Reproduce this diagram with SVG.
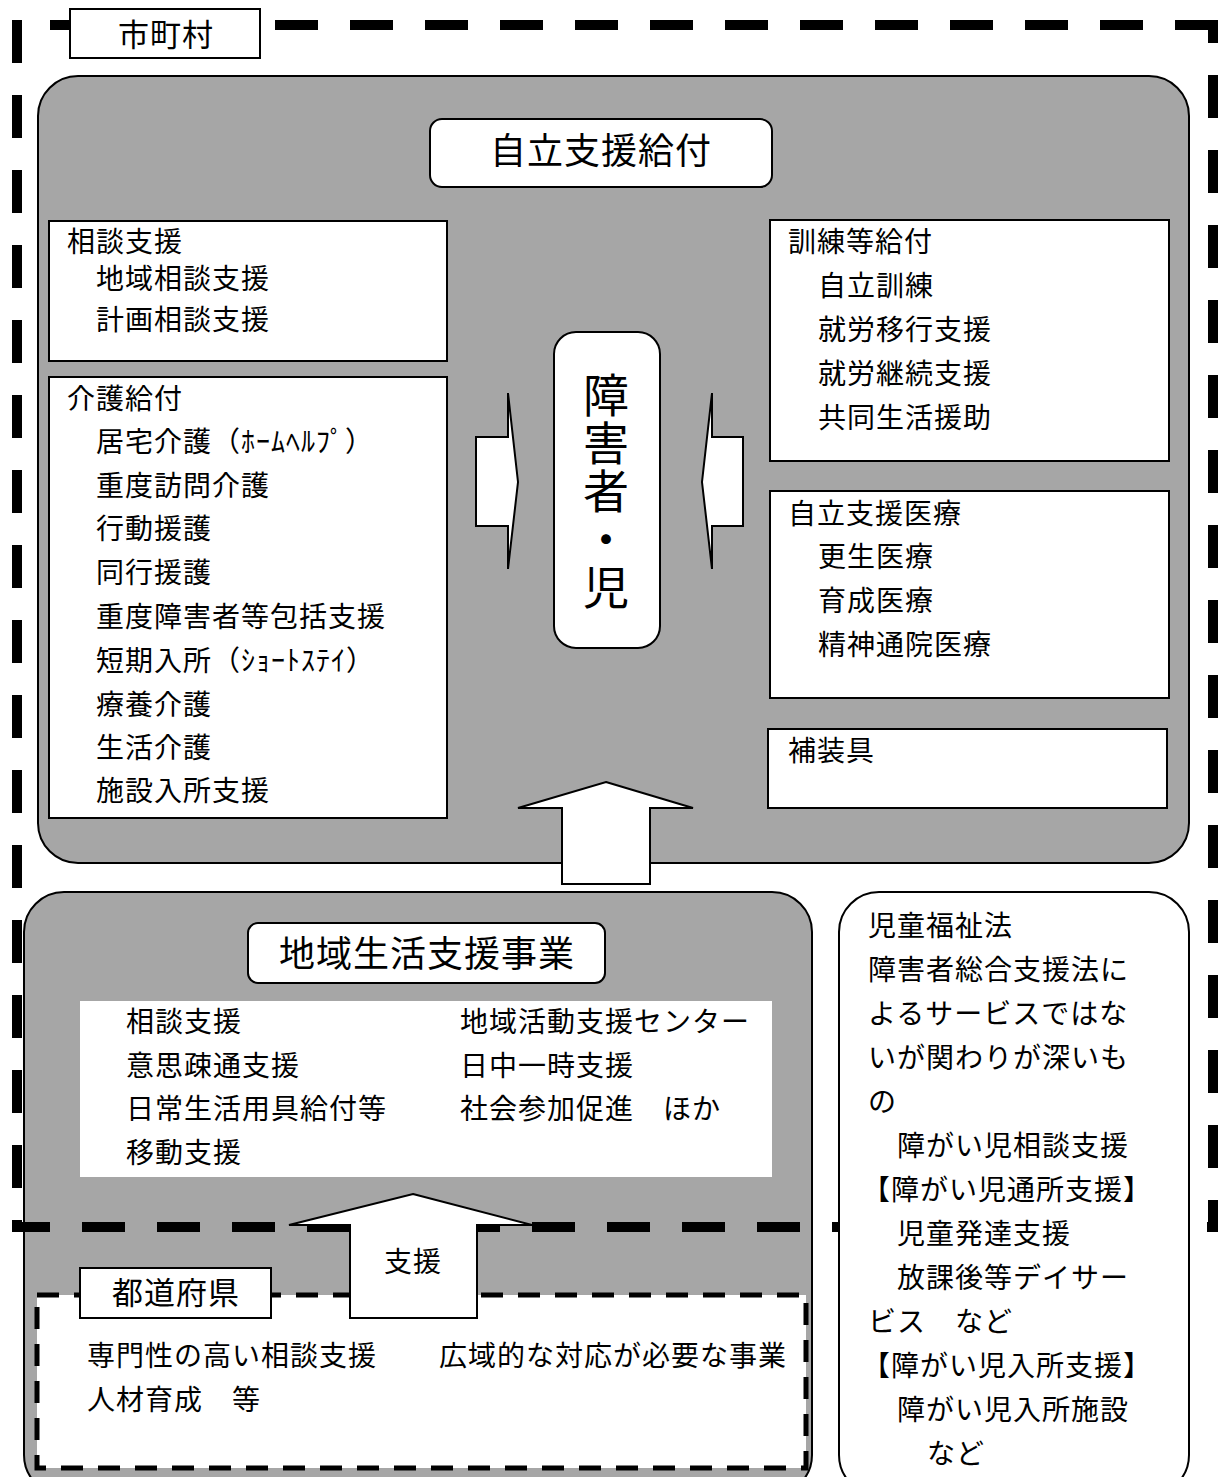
<svg xmlns="http://www.w3.org/2000/svg" width="1218" height="1477" viewBox="0 0 1218 1477">
<style>
.t{font-family:"Noto Sans CJK JP","Noto Sans CJK SC",sans-serif;font-size:28px;letter-spacing:1px;fill:#000}
.big{font-size:36px}
.lbl{font-size:31px}
.vert{font-size:46px;letter-spacing:2px;writing-mode:vertical-rl}
.box{fill:#fff;stroke:#000;stroke-width:2}
.gray{fill:#a6a6a6;stroke:#000;stroke-width:2}
.frame{stroke:#000;stroke-width:10;stroke-dasharray:43 32;fill:none}
.pref{fill:#fff;stroke:#000;stroke-width:5;stroke-dasharray:22 15}
.arrow{fill:#fff;stroke:#000;stroke-width:2;stroke-linejoin:miter}
</style>
<rect width="1218" height="1477" fill="#fff"/>

<g id="jiritsu-shien-kyufu">
  <rect class="gray" x="38" y="76" width="1151" height="787" rx="40"/>
  <rect class="box" x="430" y="119" width="342" height="68" rx="12"/>
  <text class="t big" x="601" y="164" text-anchor="middle">自立支援給付</text>
</g>

<g id="soudan-shien">
  <rect class="box" x="49" y="221" width="398" height="140"/>
  <text class="t" x="67" y="252">相談支援</text>
  <text class="t" x="96" y="289">地域相談支援</text>
  <text class="t" x="96" y="330">計画相談支援</text>
</g>

<g id="kaigo-kyufu">
  <rect class="box" x="49" y="377" width="398" height="441"/>
  <text class="t" x="67" y="409">介護給付</text>
  <text class="t" x="96" y="452">居宅介護（ﾎｰﾑﾍﾙﾌﾟ）</text>
  <text class="t" x="96" y="496">重度訪問介護</text>
  <text class="t" x="96" y="539">行動援護</text>
  <text class="t" x="96" y="583">同行援護</text>
  <text class="t" x="96" y="627">重度障害者等包括支援</text>
  <text class="t" x="96" y="671">短期入所（ｼｮｰﾄｽﾃｲ）</text>
  <text class="t" x="96" y="715">療養介護</text>
  <text class="t" x="96" y="758">生活介護</text>
  <text class="t" x="96" y="801">施設入所支援</text>
</g>

<g id="shougaisha-ji">
  <rect class="box" x="554" y="332" width="106" height="316" rx="22"/>
  <text class="t vert" x="606" y="372">障害者・児</text>
</g>

<g id="kunren-kyufu">
  <rect class="box" x="770" y="220" width="399" height="241"/>
  <text class="t" x="788" y="252">訓練等給付</text>
  <text class="t" x="818" y="296">自立訓練</text>
  <text class="t" x="818" y="340">就労移行支援</text>
  <text class="t" x="818" y="384">就労継続支援</text>
  <text class="t" x="818" y="428">共同生活援助</text>
</g>

<g id="jiritsu-iryou">
  <rect class="box" x="770" y="491" width="399" height="207"/>
  <text class="t" x="788" y="524">自立支援医療</text>
  <text class="t" x="818" y="567">更生医療</text>
  <text class="t" x="818" y="611">育成医療</text>
  <text class="t" x="818" y="655">精神通院医療</text>
</g>

<g id="hosougu">
  <rect class="box" x="768" y="729" width="399" height="79"/>
  <text class="t" x="788" y="761">補装具</text>
</g>

<g id="chiiki-seikatsu">
  <rect class="gray" x="24" y="892" width="788" height="603" rx="40"/>
  <rect class="box" x="248" y="923" width="357" height="60" rx="10"/>
  <text class="t big" x="427" y="967" text-anchor="middle">地域生活支援事業</text>
  <rect x="80" y="1001" width="692" height="176" fill="#fff"/>
  <text class="t" x="126" y="1032">相談支援</text>
  <text class="t" x="126" y="1076">意思疎通支援</text>
  <text class="t" x="126" y="1119">日常生活用具給付等</text>
  <text class="t" x="126" y="1163">移動支援</text>
  <text class="t" x="460" y="1032">地域活動支援センター</text>
  <text class="t" x="460" y="1076">日中一時支援</text>
  <text class="t" x="460" y="1119">社会参加促進　ほか</text>
</g>

<g id="todoufuken">
  <rect class="pref" x="37" y="1295" width="769" height="173"/>
  <rect class="box" x="80" y="1268" width="191" height="50" stroke-width="1.5"/>
  <text class="t lbl" x="176" y="1304" text-anchor="middle">都道府県</text>
  <text class="t" x="87" y="1366">専門性の高い相談支援</text>
  <text class="t" x="87" y="1410">人材育成　等</text>
  <text class="t" x="439" y="1366">広域的な対応が必要な事業</text>
</g>

<g id="shichouson">
  <line class="frame" x1="50" y1="25" x2="1218" y2="25"/>
  <line class="frame" x1="17" y1="20" x2="17" y2="1232"/>
  <line class="frame" x1="1213" y1="20" x2="1213" y2="1232" stroke-width="9" stroke-dashoffset="20"/>
  <line class="frame" x1="12" y1="1227" x2="1218" y2="1227" stroke-dashoffset="5"/>
  <rect class="box" x="70" y="9" width="190" height="49" stroke-width="1.5"/>
  <text class="t lbl" x="166" y="46" text-anchor="middle">市町村</text>
</g>

<g id="jidou-fukushi">
  <rect class="box" x="839" y="892" width="350" height="603" rx="40"/>
  <text class="t" x="868" y="936">児童福祉法</text>
  <text class="t" x="868" y="980">障害者総合支援法に</text>
  <text class="t" x="868" y="1024">よるサービスではな</text>
  <text class="t" x="868" y="1068">いが関わりが深いも</text>
  <text class="t" x="868" y="1112">の</text>
  <text class="t" x="897" y="1156">障がい児相談支援</text>
  <text class="t" x="862" y="1200">【障がい児通所支援】</text>
  <text class="t" x="897" y="1244">児童発達支援</text>
  <text class="t" x="897" y="1288">放課後等デイサー</text>
  <text class="t" x="868" y="1332">ビス　など</text>
  <text class="t" x="862" y="1376">【障がい児入所支援】</text>
  <text class="t" x="897" y="1420">障がい児入所施設</text>
  <text class="t" x="927" y="1464">など</text>
</g>

<g id="connectors">
  <polygon class="arrow" points="476,437 508,437 508,393 518,482 508,569 508,526 476,526"/>
  <polygon class="arrow" points="743,437 712,437 712,393 702,482 712,569 712,526 743,526"/>
  <polygon class="arrow" points="606,782 693,808 650,808 650,884 562,884 562,808 518,808"/>
  <polygon class="arrow" points="413,1194 532,1225 477,1225 477,1318 350,1318 350,1225 289,1225"/>
  <text class="t" x="413" y="1272" text-anchor="middle">支援</text>
</g>
</svg>
